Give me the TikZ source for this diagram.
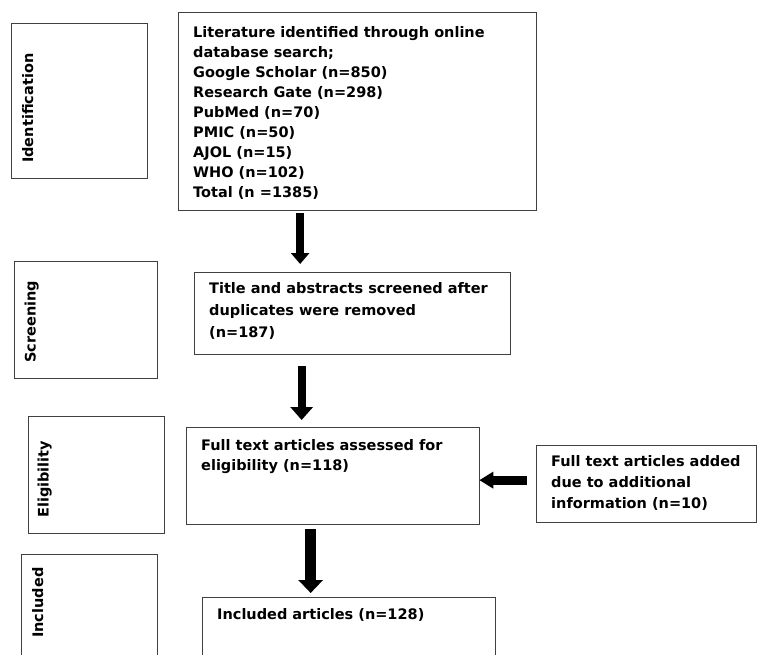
\documentclass[tikz,border=0pt]{standalone}
\usepackage{fontspec}
\setmainfont{DejaVu Sans}
\usetikzlibrary{arrows.meta}
\tikzset{
  frame/.style={draw=black!75, line width=1.3pt, inner sep=0pt, anchor=north west},
  txt/.style={inner sep=0pt, anchor=north west, align=left, font=\bfseries\fontsize{14.5}{20}\selectfont},
  vlabel/.style={inner sep=0pt, rotate=90, anchor=base west, font=\bfseries\fontsize{14.5}{20}\selectfont},
  barrow/.style={draw=black, line width=#1}
}
\begin{document}
\begin{tikzpicture}[x=1pt,y=-1pt]
\useasboundingbox[fill=white] (0,0) rectangle (757,655);
\clip (0,0) rectangle (757,655);
% stage label boxes
\node[frame, minimum width=136pt, minimum height=155pt] (id) at (11,23) {};
\node[frame, minimum width=143pt, minimum height=117pt] (sc) at (14,261) {};
\node[frame, minimum width=136pt, minimum height=117pt] (el) at (28,416) {};
\node[frame, minimum width=136pt, minimum height=120pt] (inc) at (21,554) {};
\node[vlabel] (idt) at (33,163) {Identification};
\node[vlabel] (sct) at (35.6,363) {Screening};
\node[vlabel] (elt) at (48.6,518) {Eligibility};
\node[vlabel] (inct) at (43,638) {Included};
% main boxes
\node[frame, minimum width=358pt, minimum height=198pt] (b1) at (178,12) {};
\node[frame, minimum width=316pt, minimum height=82pt] (b2) at (194,272) {};
\node[frame, minimum width=293pt, minimum height=97pt] (b3) at (186,427) {};
\node[frame, minimum width=220pt, minimum height=77pt] (side) at (536,445) {};
\node[frame, minimum width=293pt, minimum height=110pt] (b4) at (202,597) {};
% texts
\node[txt] (t1) at (193,26.5) {Literature identified through online\\database search;\\Google Scholar (n=850)\\Research Gate (n=298)\\PubMed (n=70)\\PMIC (n=50)\\AJOL (n=15)\\WHO (n=102)\\Total (n =1385)};
\node[txt, font=\bfseries\fontsize{14.5}{22}\selectfont] (t2) at (209,282.5) {Title and abstracts screened after\\duplicates were removed\\(n=187)};
\node[txt] (t3) at (201,439.5) {Full text articles assessed for\\eligibility (n=118)};
\node[txt, font=\bfseries\fontsize{14.5}{21}\selectfont] (t4) at (551,455.5) {Full text articles added\\due to additional\\information (n=10)};
\node[txt] (t5) at (217,608.5) {Included articles (n=128)};
% arrows
\coordinate (a1) at ([xshift=-57.5pt]b1.south);
\coordinate (a2) at ([xshift=-51pt]b2.south);
\coordinate (a3) at ([xshift=-22.5pt]b3.south);
\coordinate (a4) at ([yshift=4pt]side.west);
\draw[barrow=8pt, -{Triangle[length=11pt,width=18pt]}, shorten <=2pt, shorten >=8pt] (a1) -- (a1 |- b2.north);
\draw[barrow=8pt, -{Triangle[length=13pt,width=22pt]}, shorten <=11pt, shorten >=7pt] (a2) -- (a2 |- b3.north);
\draw[barrow=11pt, -{Triangle[length=13pt,width=24pt]}, shorten <=4pt, shorten >=4pt] (a3) -- (a3 |- b4.north);
\draw[barrow=9pt, -{Triangle[length=14pt,width=16pt]}, shorten <=9pt, shorten >=-1pt] (a4) -- (a4 -| b3.east);
\end{tikzpicture}
\end{document}
